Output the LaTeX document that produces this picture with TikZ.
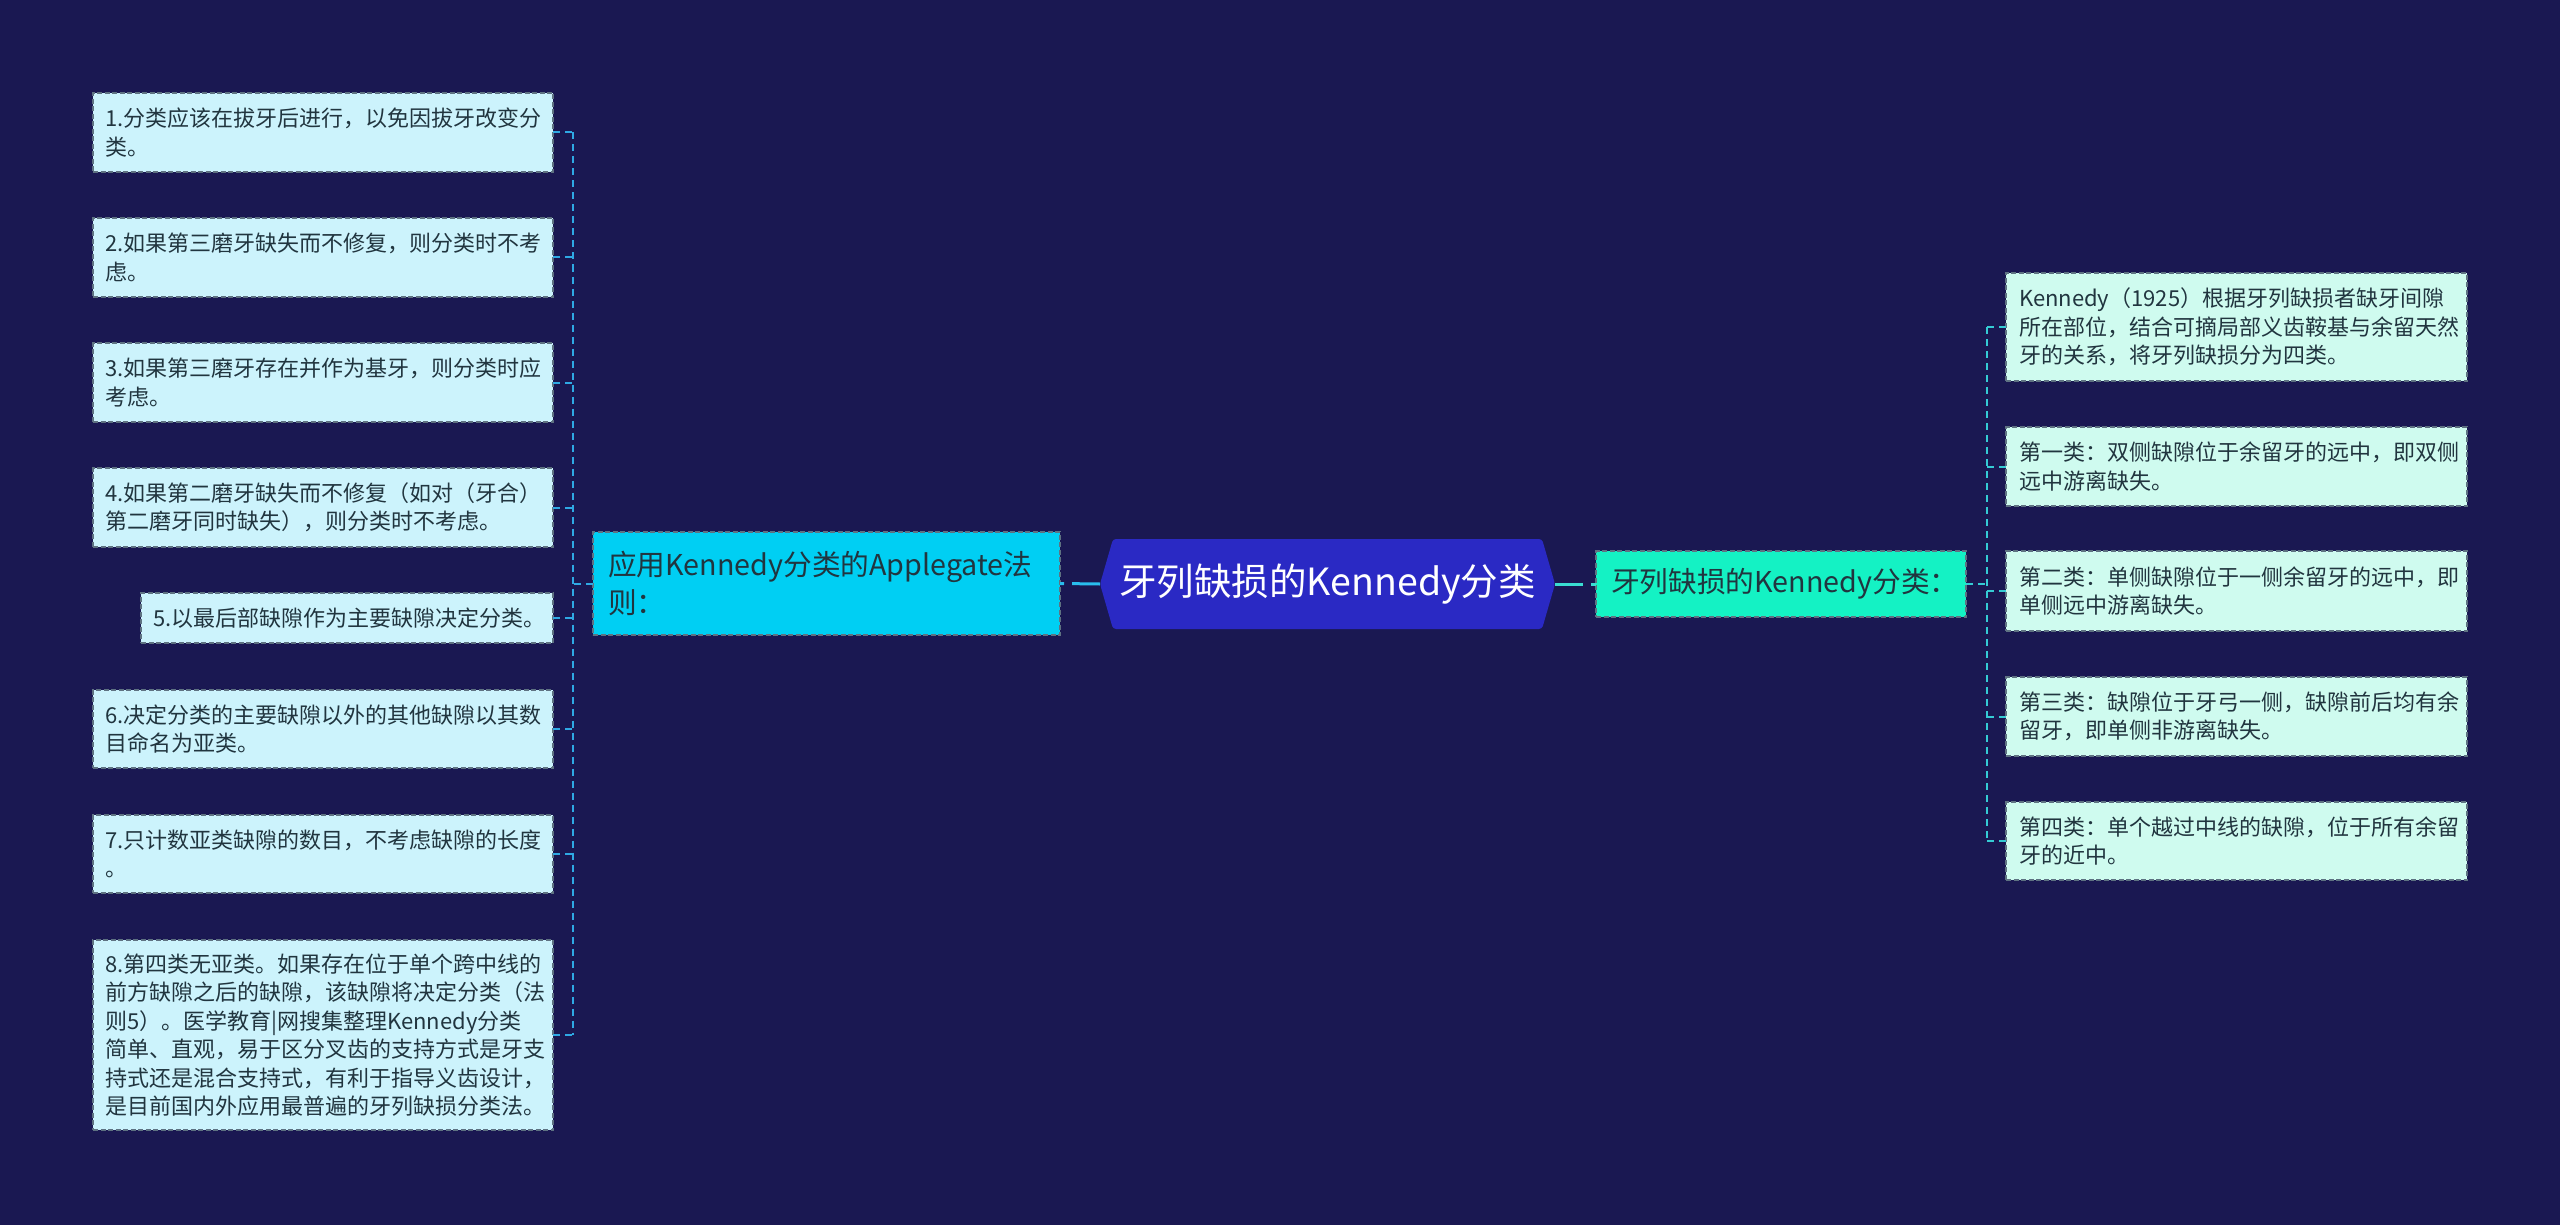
\documentclass[tikz,border=0pt]{standalone}
\usepackage{fontspec}
\setmainfont{Noto Sans CJK SC}
\usetikzlibrary{backgrounds}
\definecolor{bg}{HTML}{1A1852}
\definecolor{cfill}{HTML}{2A29C4}
\definecolor{lmfill}{HTML}{00CFF3}
\definecolor{rmfill}{HTML}{14F2C4}
\definecolor{lleaf}{HTML}{CCF3FC}
\definecolor{rleaf}{HTML}{CFFBEF}
\definecolor{bord}{HTML}{5E7282}
\definecolor{txt}{HTML}{21353F}
\definecolor{linkL}{HTML}{2FA9E4}
\definecolor{linkR}{HTML}{35CBD4}
\definecolor{linkC}{HTML}{29BDEE}
\definecolor{linkCR}{HTML}{3ADDD2}
\tikzset{
  leaf/.style={draw=bord, line width=1.5pt, dash pattern=on 5pt off 2.5pt, text=txt,
    font=\fontsize{22}{28.5}\selectfont, align=left, anchor=north west,
    inner xsep=12pt, inner ysep=0pt, outer sep=0pt},
  leafL/.style={leaf, fill=lleaf},
  leafR/.style={leaf, fill=rleaf, inner xsep=13pt},
  mainbox/.style={draw=bord, line width=1.5pt, dash pattern=on 5pt off 2.5pt, text=txt,
    font=\fontsize{28.7}{38}\selectfont, align=left, anchor=north west,
    inner xsep=15pt, inner ysep=0pt, outer sep=0pt},
  conL/.style={linkL, line width=2pt, dash pattern=on 7pt off 5pt},
  conR/.style={linkR, line width=2pt, dash pattern=on 7pt off 5pt},
}
\begin{document}
\begin{tikzpicture}[x=1pt,y=-1pt]
\useasboundingbox (0,0) rectangle (2560,1225);
% leaves left
\node[leafL, text width=436pt, minimum height=79pt] (l1) at (93,93) {1.分类应该在拔牙后进行，以免因拔牙改变分\\类。};
\node[leafL, text width=436pt, minimum height=79pt] (l2) at (93,218) {2.如果第三磨牙缺失而不修复，则分类时不考\\虑。};
\node[leafL, text width=436pt, minimum height=79pt] (l3) at (93,343) {3.如果第三磨牙存在并作为基牙，则分类时应\\考虑。};
\node[leafL, text width=436pt, minimum height=79pt] (l4) at (93,468) {4.如果第二磨牙缺失而不修复（如对（牙合）\\第二磨牙同时缺失），则分类时不考虑。};
\node[leafL, text width=388pt, minimum height=50pt] (l5) at (141,593) {5.以最后部缺隙作为主要缺隙决定分类。};
\node[leafL, text width=436pt, minimum height=78pt] (l6) at (93,690) {6.决定分类的主要缺隙以外的其他缺隙以其数\\目命名为亚类。};
\node[leafL, text width=436pt, minimum height=78pt] (l7) at (93,815) {7.只计数亚类缺隙的数目，不考虑缺隙的长度\\。};
\node[leafL, text width=436pt, minimum height=190pt] (l8) at (93,940) {8.第四类无亚类。如果存在位于单个跨中线的\\前方缺隙之后的缺隙，该缺隙将决定分类（法\\则5）。医学教育|网搜集整理Kennedy分类\\简单、直观，易于区分叉齿的支持方式是牙支\\持式还是混合支持式，有利于指导义齿设计，\\是目前国内外应用最普遍的牙列缺损分类法。};
% main nodes
\node[mainbox, fill=lmfill, text width=437pt, minimum height=103pt] (ml) at (593,532) {应用Kennedy分类的Applegate法\\则：};
\node[mainbox, fill=rmfill, text width=340pt, minimum height=66pt] (mr) at (1596,551) {牙列缺损的Kennedy分类：};
\node[minimum width=455pt, minimum height=90pt, inner sep=0pt, outer sep=0pt, text=white,
  font=\fontsize{37.5}{40}\selectfont] (c) at (1327.5,584) {牙列缺损的Kennedy分类};
% right leaves
\node[leafR, text width=435pt, minimum height=108pt] (r1) at (2006,273) {Kennedy（1925）根据牙列缺损者缺牙间隙\\所在部位，结合可摘局部义齿鞍基与余留天然\\牙的关系，将牙列缺损分为四类。};
\node[leafR, text width=435pt, minimum height=79pt] (r2) at (2006,427) {第一类：双侧缺隙位于余留牙的远中，即双侧\\远中游离缺失。};
\node[leafR, text width=435pt, minimum height=80pt] (r3) at (2006,551) {第二类：单侧缺隙位于一侧余留牙的远中，即\\单侧远中游离缺失。};
\node[leafR, text width=435pt, minimum height=79pt] (r4) at (2006,677) {第三类：缺隙位于牙弓一侧，缺隙前后均有余\\留牙，即单侧非游离缺失。};
\node[leafR, text width=435pt, minimum height=78pt] (r5) at (2006,802) {第四类：单个越过中线的缺隙，位于所有余留\\牙的近中。};
\begin{scope}[on background layer]
\fill[bg] (0,0) rectangle (2560,1225);
\fill[cfill, rounded corners=3pt] (c.west) -- ([xshift=13pt]c.north west) -- ([xshift=-13pt]c.north east) -- (c.east) -- ([xshift=-13pt]c.south east) -- ([xshift=13pt]c.south west) -- cycle;
\end{scope}
% spines
\coordinate (sL) at (573,0);
\coordinate (sR) at (1987,0);
\draw[conL] (l1.east -| sL) -- (l8.east -| sL);
\foreach \n in {l1,l2,l3,l4,l5,l6,l7,l8} {\draw[conL] (\n.east) -- (\n.east -| sL);}
\draw[conL] (ml.west) -- (ml.west -| sL);
\draw[conR] (r1.west -| sR) -- (r5.west -| sR);
\foreach \n in {r1,r2,r3,r4,r5} {\draw[conR] (\n.west -| sR) -- (\n.west);}
\draw[conR] (mr.east) -- (mr.east -| sR);
\draw[linkC, line width=3pt, dash pattern=on 28pt off 8pt] (c.west) -- (ml.east);
\draw[linkCR, line width=3pt, dash pattern=on 28pt off 8pt] (c.east) -- (mr.west);
\end{tikzpicture}
\end{document}
